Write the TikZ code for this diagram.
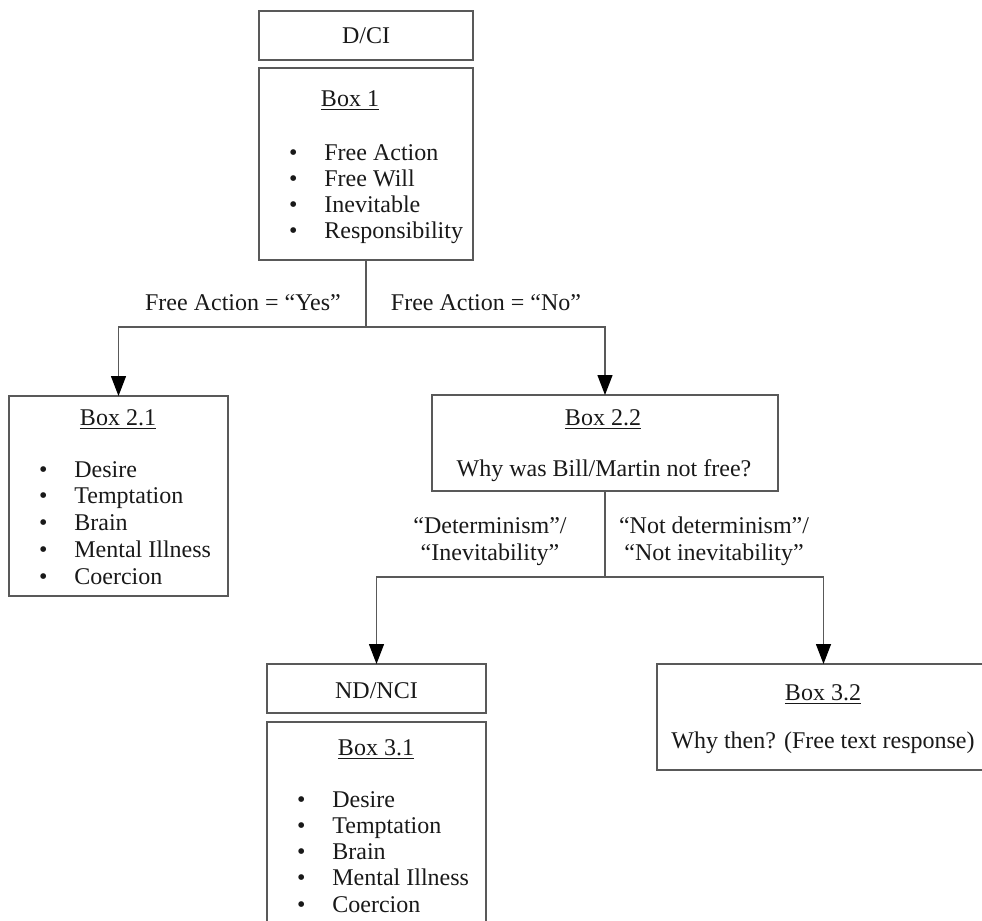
\documentclass[tikz,border=0pt]{standalone}
\usepackage{fontspec}
\setmainfont{Liberation Serif}
\usetikzlibrary{arrows.meta}
\begin{document}
\begin{tikzpicture}[x=0.5pt,y=-0.5pt,
  box/.style={draw=black!65, line width=0.7pt, inner sep=0pt, outer sep=0pt},
  txt/.style={inner sep=0pt, anchor=base, font=\fontsize{12}{14}\selectfont, text=black!90},
  item/.style={txt, anchor=base west},
  conn/.style={draw=black!65, line width=0.7pt},
  arr/.style={conn, -{Triangle[length=10pt,width=7.5pt,color=black]}}]
\useasboundingbox (0,0) rectangle (982,921);
\clip (0,0) rectangle (982,921);
% boxes
\node[box, minimum width=107pt, minimum height=24.5pt] (dci) at (366,35.5) {};
\node[box, minimum width=107pt, minimum height=96pt] (box1) at (366,164) {};
\node[box, minimum width=109.5pt, minimum height=100pt] (box21) at (118.5,496) {};
\node[box, minimum width=173pt, minimum height=48pt] (box22) at (605,443) {};
\node[box, minimum width=109.5pt, minimum height=24.5pt] (nd) at (376.5,688.5) {};
\node[box, minimum width=109.5pt, minimum height=119pt] (box31) at (376.5,841) {};
\node[box, minimum width=166.5pt, minimum height=53pt] (box32) at (823.5,717) {};
% texts
\node[txt] (dcit) at (366,44) {D/CI};
\node[txt] (b1t) at (350,106) {\underline{Box 1}};
\foreach \t [count=\i] in {Free Action,Free Will,Inevitable,Responsibility}
  \node[item] (b1i\i) at (288.8,{160+26*(\i-1)}) {\makebox[17.6pt][l]{\textbullet}\t};
\node[txt] (b21t) at (118,425) {\underline{Box 2.1}};
\foreach \t [count=\i] in {Desire,Temptation,Brain,Mental Illness,Coercion}
  \node[item] (b21i\i) at (38.8,{477+26.75*(\i-1)}) {\makebox[17.6pt][l]{\textbullet}\t};
\node[txt] (b22t) at (603,425) {\underline{Box 2.2}};
\node[txt] (b22q) at (604,476) {Why was Bill/Martin not free?};
\node[txt] (ndt) at (376.5,698) {ND/NCI};
\node[txt] (b31t) at (376,755) {\underline{Box 3.1}};
\foreach \t [count=\i] in {Desire,Temptation,Brain,Mental Illness,Coercion}
  \node[item] (b31i\i) at (296.8,{807+26.25*(\i-1)}) {\makebox[17.6pt][l]{\textbullet}\t};
\node[txt] (b32t) at (823,700) {\underline{Box 3.2}};
\node[txt] (b32q) at (823,748) {Why then? (Free text response)};
% labels
\node[txt] (lyes) at (243,310) {Free Action = “Yes”};
\node[txt] (lno) at (486,310) {Free Action = “No”};
\node[txt] (ldet1) at (490,533) {“Determinism”/};
\node[txt] (ldet2) at (490,560) {“Inevitability”};
\node[txt] (lnot1) at (714,533) {“Not determinism”/};
\node[txt] (lnot2) at (714,560) {“Not inevitability”};
% connectors
\coordinate (j1) at (box1.south |- 0,327);
\coordinate (j2) at (box22.south |- 0,577);
\draw[conn] (box1.south) -- (j1);
\draw[arr] (j1) -| (box21.north);
\draw[arr] (j1) -| (box22.north);
\draw[conn] (box22.south) -- (j2);
\draw[arr] (j2) -| (nd.north);
\draw[arr] (j2) -| (box32.north);
\end{tikzpicture}
\end{document}
